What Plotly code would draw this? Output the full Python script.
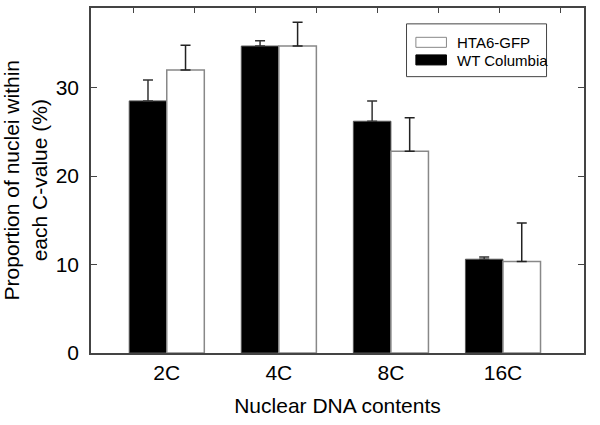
import plotly.graph_objects as go

categories = ["2C", "4C", "8C", "16C"]
wt_columbia = [28.5, 34.7, 26.2, 10.6]
wt_err = [2.35, 0.6, 2.3, 0.25]
hta6_gfp = [32.0, 34.7, 22.8, 10.35]
hta6_err = [2.8, 2.7, 3.8, 4.35]
y_ticks = [0, 10, 20, 30]

FONT = "Liberation Sans, Arial, sans-serif"
AXIS = "#444444"

fig = go.Figure()

fig.add_trace(go.Bar(
    x=categories, y=wt_columbia, name="WT Columbia",
    marker=dict(color="black", line=dict(color="#555555", width=1)),
    error_y=dict(type="data", symmetric=False, array=wt_err,
                 arrayminus=[0] * len(wt_err), color="#333333",
                 thickness=1.5, width=5),
    showlegend=False,
))
fig.add_trace(go.Bar(
    x=categories, y=hta6_gfp, name="HTA6-GFP",
    marker=dict(color="white", line=dict(color="#888888", width=1.5)),
    error_y=dict(type="data", symmetric=False, array=hta6_err,
                 arrayminus=[0] * len(hta6_err), color="#222222",
                 thickness=1.5, width=5),
    showlegend=False,
))

# invisible trace to carry the top axis with its odd tick marks
fig.add_trace(go.Scatter(x=[0, 7], y=[0, 0], xaxis="x2", mode="markers",
                         marker=dict(opacity=0), showlegend=False,
                         hoverinfo="skip"))

fig.update_layout(
    width=600, height=425,
    margin=dict(l=91, r=16, t=8, b=72, autoexpand=False),
    paper_bgcolor="white", plot_bgcolor="white",
    barmode="group", bargap=0.33, bargroupgap=0,
    font=dict(family=FONT, size=21, color="black"),
    xaxis=dict(
        range=[-0.676, 3.723], showline=True, linecolor=AXIS, linewidth=1.5,
        ticks="", showgrid=False, zeroline=False, automargin=False,
        title=dict(text="Nuclear DNA contents", standoff=15,
                   font=dict(size=21)),
        tickfont=dict(size=21),
    ),
    xaxis2=dict(
        overlaying="x", side="top", range=[-0.689, 7.39],
        tickvals=list(range(8)), showticklabels=False,
        ticks="inside", ticklen=5, tickcolor=AXIS, tickwidth=1.2,
        showline=True, linecolor=AXIS, linewidth=1.5, automargin=False,
        showgrid=False, zeroline=False,
    ),
    yaxis=dict(
        range=[0, 39], tickvals=y_ticks, ticks="inside", ticklen=6,
        tickcolor=AXIS, tickwidth=1.2, mirror="ticks", showline=True,
        linecolor=AXIS, linewidth=1.5, showgrid=False, zeroline=False,
        tickfont=dict(size=21), ticklabelstandoff=6, automargin=False,
    ),
    shapes=[
        dict(type="rect", xref="paper", yref="paper", x0=0.640, x1=0.924,
             y0=0.801, y1=0.954, line=dict(color=AXIS, width=1),
             fillcolor="white"),
        dict(type="rect", xref="paper", yref="paper", x0=0.659, x1=0.721,
             y0=0.886, y1=0.915, line=dict(color="#888888", width=1),
             fillcolor="white"),
        dict(type="rect", xref="paper", yref="paper", x0=0.659, x1=0.721,
             y0=0.835, y1=0.864, line=dict(color="black", width=1),
             fillcolor="black"),
    ],
    annotations=[
        dict(text="Proportion of nuclei within<br>each C-value (%)",
             xref="paper", yref="paper", x=-0.134, y=0.5, textangle=-90,
             showarrow=False, xanchor="center", yanchor="middle",
             font=dict(size=21)),
        dict(text="HTA6-GFP", xref="paper", yref="paper", x=0.738, y=0.901,
             showarrow=False, xanchor="left", yanchor="middle",
             font=dict(size=15)),
        dict(text="WT Columbia", xref="paper", yref="paper", x=0.738,
             y=0.849, showarrow=False, xanchor="left", yanchor="middle",
             font=dict(size=15)),
    ],
)

# drop the default page margin so the 600x425 figure fills the window
fig.write_html(
    "out.html",
    config={"displayModeBar": False},
    post_script="document.body.style.margin='0';"
                "document.body.style.overflow='hidden';",
)
